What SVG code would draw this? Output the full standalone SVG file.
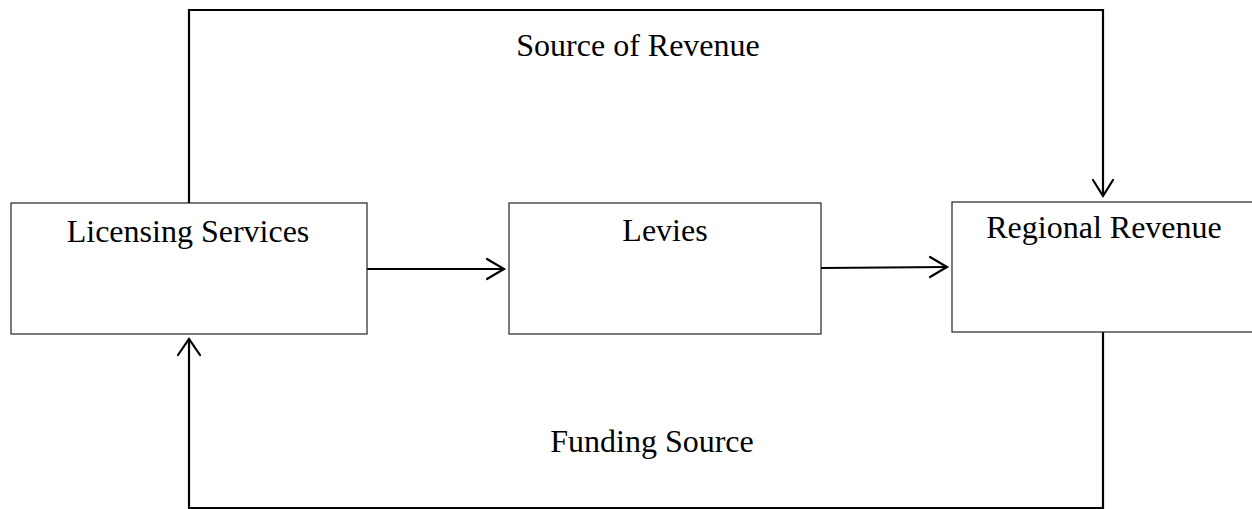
<svg xmlns="http://www.w3.org/2000/svg" width="1252" height="509" viewBox="0 0 1252 509">
<style>
.box{fill:#fff;stroke:#222;stroke-width:1.2}
.t{font-family:"Liberation Serif","Times New Roman",serif;font-size:32px;fill:#000;text-anchor:middle}
.c{fill:none;stroke:#000;stroke-width:2.2}
.ah{fill:none;stroke:#000;stroke-width:2.2;stroke-linecap:round;stroke-linejoin:miter}
</style>
<rect width="1252" height="509" fill="#fff"/>
<g id="connectors">
<polyline class="c" points="189,203 189,10 1103,10 1103,196"/>
<polyline class="ah" points="1093,180 1103,196 1113,180"/>
<line class="c" x1="367" y1="269" x2="504" y2="269"/>
<polyline class="ah" points="487,259 504,269 487,279"/>
<line class="c" x1="821" y1="268" x2="947" y2="267"/>
<polyline class="ah" points="930,257 947,267 930,277"/>
<polyline class="c" points="1103,332 1103,508 189,508 189,339"/>
<polyline class="ah" points="178,355 189,339 200,355"/>
<text class="t" x="638" y="56">Source of Revenue</text>
<text class="t" x="652" y="452">Funding Source</text>
</g>
<g id="licensing">
<rect class="box" x="11" y="203" width="356" height="131"/>
<text class="t" x="188" y="242">Licensing Services</text>
</g>
<g id="levies">
<rect class="box" x="509" y="203" width="312" height="131"/>
<text class="t" x="665" y="241">Levies</text>
</g>
<g id="regional">
<rect class="box" x="952" y="202" width="310" height="130"/>
<text class="t" x="1104" y="238">Regional Revenue</text>
</g>
</svg>
